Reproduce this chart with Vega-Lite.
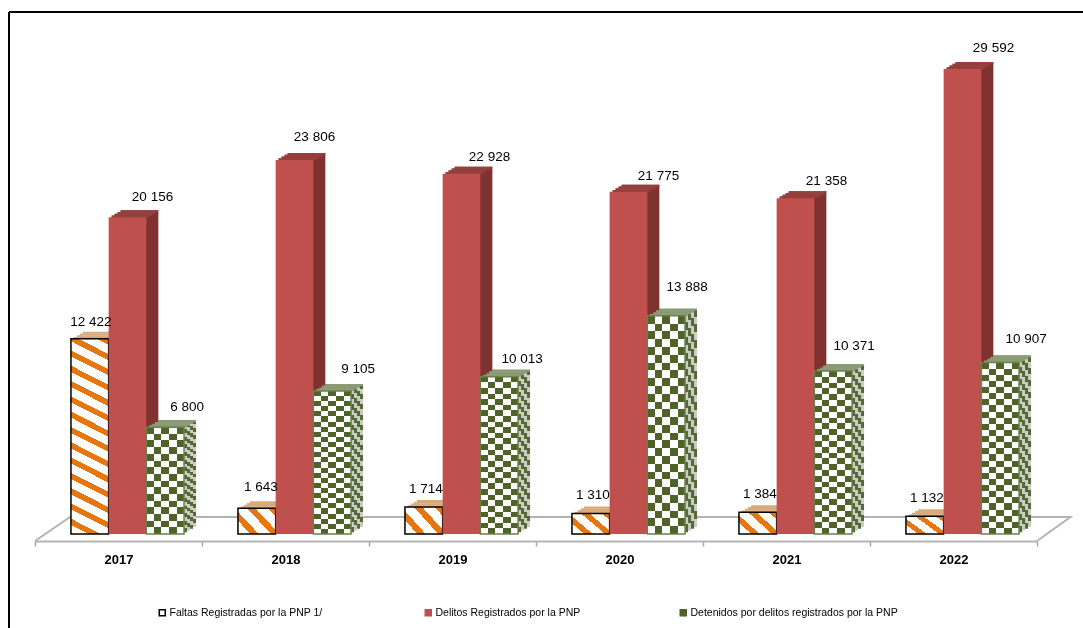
{
"$schema":"https://vega.github.io/schema/vega-lite/v6.json",
"width":1074,"height":616,
"padding":{"left":9,"top":12,"right":0,"bottom":0},
"autosize":"none",
"background":"white",
"config":{"view":{"stroke":null}},
"datasets":{
"rows":[
{"year":"2017","k":"F","serie":"Faltas Registradas por la PNP  1/","value":12422,"label":"12 422"},
{"year":"2018","k":"F","serie":"Faltas Registradas por la PNP  1/","value":1643,"label":"1 643"},
{"year":"2019","k":"F","serie":"Faltas Registradas por la PNP  1/","value":1714,"label":"1 714"},
{"year":"2020","k":"F","serie":"Faltas Registradas por la PNP  1/","value":1310,"label":"1 310"},
{"year":"2021","k":"F","serie":"Faltas Registradas por la PNP  1/","value":1384,"label":"1 384"},
{"year":"2022","k":"F","serie":"Faltas Registradas por la PNP  1/","value":1132,"label":"1 132"},
{"year":"2017","k":"D","serie":"Delitos Registrados por la PNP","value":20156,"label":"20 156"},
{"year":"2018","k":"D","serie":"Delitos Registrados por la PNP","value":23806,"label":"23 806"},
{"year":"2019","k":"D","serie":"Delitos Registrados por la PNP","value":22928,"label":"22 928"},
{"year":"2020","k":"D","serie":"Delitos Registrados por la PNP","value":21775,"label":"21 775"},
{"year":"2021","k":"D","serie":"Delitos Registrados por la PNP","value":21358,"label":"21 358"},
{"year":"2022","k":"D","serie":"Delitos Registrados por la PNP","value":29592,"label":"29 592"},
{"year":"2017","k":"G","serie":"Detenidos por delitos registrados por la PNP","value":6800,"label":"6 800"},
{"year":"2018","k":"G","serie":"Detenidos por delitos registrados por la PNP","value":9105,"label":"9 105"},
{"year":"2019","k":"G","serie":"Detenidos por delitos registrados por la PNP","value":10013,"label":"10 013"},
{"year":"2020","k":"G","serie":"Detenidos por delitos registrados por la PNP","value":13888,"label":"13 888"},
{"year":"2021","k":"G","serie":"Detenidos por delitos registrados por la PNP","value":10371,"label":"10 371"},
{"year":"2022","k":"G","serie":"Detenidos por delitos registrados por la PNP","value":10907,"label":"10 907"}
],
"floor":[
{"o":1,"u":0,"v":-446},
{"o":2,"u":0.21,"v":1081},
{"o":3,"u":6.2,"v":1081},
{"o":4,"u":6,"v":-446}
]
},
"resolve":{"scale":{"x":"independent"}},
"layer":[
{
"data":{"name":"floor"},
"encoding":{
"x":{"field":"u","type":"quantitative","axis":null,"scale":{"domain":[-0.1557,6.2754],"nice":false,"zero":false}},
"y":{"field":"v","type":"quantitative","axis":null,"scale":{"domain":[-5982,33218],"nice":false,"zero":false}}
},
"layer":[
{"mark":{"type":"line","color":"#b4b4b4","strokeWidth":2},"encoding":{"order":{"field":"o","type":"ordinal"}}},
{"mark":{"type":"rule","color":"black","strokeWidth":2},"encoding":{"x":{"datum":-0.1557},"y":null}},
{"mark":{"type":"rule","color":"black","strokeWidth":2},"encoding":{"y":{"datum":33218},"x":null}}
]
},
{
"data":{"name":"rows"},
"resolve":{"scale":{"xOffset":"independent"}},
"encoding":{
"x":{"field":"year","type":"nominal","title":null,"scale":{"range":[26,1028],"paddingInner":0,"paddingOuter":0},
"axis":{"orient":"bottom","offset":-87,"tickBand":"extent","tickSize":5,"tickColor":"#a6a6a6","domainColor":"#b4b4b4","domainWidth":2,"tickWidth":1.5,"labelAngle":0,"labelFont":"Liberation Sans","labelFontWeight":"bold","labelFontSize":13,"labelColor":"black","labelPadding":7,"grid":false}},
"xOffset":{"field":"k","type":"nominal","scale":{"domain":["F","D","G"],"paddingInner":0,"paddingOuter":0.715}},
"y":{"field":"value","type":"quantitative","axis":null,"scale":{"domain":[-5982,33218],"nice":false,"zero":false}}
},
"layer":[
{"mark":{"type":"bar","opacity":0},"encoding":{
"fill":{"field":"serie","type":"nominal","scale":{"domain":["Faltas Registradas por la PNP  1/","Delitos Registrados por la PNP","Detenidos por delitos registrados por la PNP"],"range":["white","#c0504d","#4f6228"]},
"legend":{"title":null,"orient":"none","legendX":148,"legendY":595,"direction":"horizontal","columns":3,"columnPadding":96,"symbolType":"square","symbolSize":36,"symbolOpacity":1,"symbolStrokeWidth":1.5,"labelFont":"Liberation Sans","labelFontSize":10.5,"labelColor":"black","labelLimit":300,"labelOffset":2}},
"stroke":{"field":"serie","type":"nominal","scale":{"domain":["Faltas Registradas por la PNP  1/","Delitos Registrados por la PNP","Detenidos por delitos registrados por la PNP"],"range":["black","#c0504d","#4f6228"]},"legend":null}
}},

{"transform":[{"filter":"datum.k=='F'"}],"mark":{"type":"bar","color":"#d8aa7c","yOffset":-7,"y2Offset":-5},"encoding":{"xOffset":{"field":"k","type":"nominal","scale":{"domain":["F","D","G"],"paddingInner":0,"paddingOuter":0.715,"range":[21,188]}},"y2":{"field":"value"}}},
{"transform":[{"filter":"datum.k=='F'"}],"mark":{"type":"bar","color":"#d8aa7c","yOffset":-5.25,"y2Offset":-3.25},"encoding":{"xOffset":{"field":"k","type":"nominal","scale":{"domain":["F","D","G"],"paddingInner":0,"paddingOuter":0.715,"range":[18,185]}},"y2":{"field":"value"}}},
{"transform":[{"filter":"datum.k=='F'"}],"mark":{"type":"bar","color":"#d8aa7c","yOffset":-3.5,"y2Offset":-1.5},"encoding":{"xOffset":{"field":"k","type":"nominal","scale":{"domain":["F","D","G"],"paddingInner":0,"paddingOuter":0.715,"range":[15,182]}},"y2":{"field":"value"}}},
{"transform":[{"filter":"datum.k=='F'"}],"mark":{"type":"bar","color":"#d8aa7c","yOffset":-1.75,"y2Offset":0},"encoding":{"xOffset":{"field":"k","type":"nominal","scale":{"domain":["F","D","G"],"paddingInner":0,"paddingOuter":0.715,"range":[12,179]}},"y2":{"field":"value"}}},
{"transform":[{"filter":"datum.k=='F'"}],"mark":{"type":"bar","stroke":"black","strokeWidth":1.5},
"encoding":{"xOffset":{"field":"k","type":"nominal","scale":{"domain":["F","D","G"],"paddingInner":0,"paddingOuter":0.715,"range":[9,176]}},"fill":{"condition":{"test":"datum.value>5000","value":{"gradient":"linear","x1":0,"y1":1,"x2":0.106,"y2":-0.087,"stops":[
{"offset":0,"color":"#ffffff"},{"offset":0.0429,"color":"#ffffff"},{"offset":0.0429,"color":"#e8760e"},{"offset":0.0714,"color":"#e8760e"},{"offset":0.0714,"color":"#ffffff"},{"offset":0.1143,"color":"#ffffff"},{"offset":0.1143,"color":"#e8760e"},{"offset":0.1429,"color":"#e8760e"},{"offset":0.1429,"color":"#ffffff"},{"offset":0.1857,"color":"#ffffff"},{"offset":0.1857,"color":"#e8760e"},{"offset":0.2143,"color":"#e8760e"},{"offset":0.2143,"color":"#ffffff"},{"offset":0.2571,"color":"#ffffff"},{"offset":0.2571,"color":"#e8760e"},{"offset":0.2857,"color":"#e8760e"},{"offset":0.2857,"color":"#ffffff"},{"offset":0.3286,"color":"#ffffff"},{"offset":0.3286,"color":"#e8760e"},{"offset":0.3571,"color":"#e8760e"},{"offset":0.3571,"color":"#ffffff"},{"offset":0.4,"color":"#ffffff"},{"offset":0.4,"color":"#e8760e"},{"offset":0.4286,"color":"#e8760e"},{"offset":0.4286,"color":"#ffffff"},{"offset":0.4714,"color":"#ffffff"},{"offset":0.4714,"color":"#e8760e"},{"offset":0.5,"color":"#e8760e"},{"offset":0.5,"color":"#ffffff"},{"offset":0.5429,"color":"#ffffff"},{"offset":0.5429,"color":"#e8760e"},{"offset":0.5714,"color":"#e8760e"},{"offset":0.5714,"color":"#ffffff"},{"offset":0.6143,"color":"#ffffff"},{"offset":0.6143,"color":"#e8760e"},{"offset":0.6429,"color":"#e8760e"},{"offset":0.6429,"color":"#ffffff"},{"offset":0.6857,"color":"#ffffff"},{"offset":0.6857,"color":"#e8760e"},{"offset":0.7143,"color":"#e8760e"},{"offset":0.7143,"color":"#ffffff"},{"offset":0.7571,"color":"#ffffff"},{"offset":0.7571,"color":"#e8760e"},{"offset":0.7857,"color":"#e8760e"},{"offset":0.7857,"color":"#ffffff"},{"offset":0.8286,"color":"#ffffff"},{"offset":0.8286,"color":"#e8760e"},{"offset":0.8571,"color":"#e8760e"},{"offset":0.8571,"color":"#ffffff"},{"offset":0.9,"color":"#ffffff"},{"offset":0.9,"color":"#e8760e"},{"offset":0.9286,"color":"#e8760e"},{"offset":0.9286,"color":"#ffffff"},{"offset":0.9714,"color":"#ffffff"},{"offset":0.9714,"color":"#e8760e"},{"offset":1,"color":"#e8760e"}]}},
"value":{"gradient":"linear","x1":0,"y1":1,"x2":1.17,"y2":0.25,"stops":[
{"offset":0,"color":"#ffffff"},{"offset":0.2,"color":"#ffffff"},{"offset":0.2,"color":"#e8760e"},{"offset":0.3333,"color":"#e8760e"},{"offset":0.3333,"color":"#ffffff"},{"offset":0.5333,"color":"#ffffff"},{"offset":0.5333,"color":"#e8760e"},{"offset":0.6667,"color":"#e8760e"},{"offset":0.6667,"color":"#ffffff"},{"offset":0.8667,"color":"#ffffff"},{"offset":0.8667,"color":"#e8760e"},{"offset":1,"color":"#e8760e"}]}}}},

{"transform":[{"filter":"datum.k=='D'"}],"mark":{"type":"bar","color":"#7f3230","yOffset":-7,"y2Offset":-7},"encoding":{"xOffset":{"field":"k","type":"nominal","scale":{"domain":["F","D","G"],"paddingInner":0,"paddingOuter":0.715,"range":[21,188]}}}},
{"transform":[{"filter":"datum.k=='D'"}],"mark":{"type":"bar","color":"#7f3230","yOffset":-5.25,"y2Offset":-5.25},"encoding":{"xOffset":{"field":"k","type":"nominal","scale":{"domain":["F","D","G"],"paddingInner":0,"paddingOuter":0.715,"range":[18,185]}}}},
{"transform":[{"filter":"datum.k=='D'"}],"mark":{"type":"bar","color":"#7f3230","yOffset":-3.5,"y2Offset":-3.5},"encoding":{"xOffset":{"field":"k","type":"nominal","scale":{"domain":["F","D","G"],"paddingInner":0,"paddingOuter":0.715,"range":[15,182]}}}},
{"transform":[{"filter":"datum.k=='D'"}],"mark":{"type":"bar","color":"#7f3230","yOffset":-1.75,"y2Offset":-1.75},"encoding":{"xOffset":{"field":"k","type":"nominal","scale":{"domain":["F","D","G"],"paddingInner":0,"paddingOuter":0.715,"range":[12,179]}}}},
{"transform":[{"filter":"datum.k=='D'"}],"mark":{"type":"bar","color":"#96403d","yOffset":-7,"y2Offset":-5},"encoding":{"xOffset":{"field":"k","type":"nominal","scale":{"domain":["F","D","G"],"paddingInner":0,"paddingOuter":0.715,"range":[21,188]}},"y2":{"field":"value"}}},
{"transform":[{"filter":"datum.k=='D'"}],"mark":{"type":"bar","color":"#96403d","yOffset":-5.25,"y2Offset":-3.25},"encoding":{"xOffset":{"field":"k","type":"nominal","scale":{"domain":["F","D","G"],"paddingInner":0,"paddingOuter":0.715,"range":[18,185]}},"y2":{"field":"value"}}},
{"transform":[{"filter":"datum.k=='D'"}],"mark":{"type":"bar","color":"#96403d","yOffset":-3.5,"y2Offset":-1.5},"encoding":{"xOffset":{"field":"k","type":"nominal","scale":{"domain":["F","D","G"],"paddingInner":0,"paddingOuter":0.715,"range":[15,182]}},"y2":{"field":"value"}}},
{"transform":[{"filter":"datum.k=='D'"}],"mark":{"type":"bar","color":"#96403d","yOffset":-1.75,"y2Offset":0},"encoding":{"xOffset":{"field":"k","type":"nominal","scale":{"domain":["F","D","G"],"paddingInner":0,"paddingOuter":0.715,"range":[12,179]}},"y2":{"field":"value"}}},
{"transform":[{"filter":"datum.k=='D'"}],"mark":{"type":"bar","color":"#c0504d"},"encoding":{"xOffset":{"field":"k","type":"nominal","scale":{"domain":["F","D","G"],"paddingInner":0,"paddingOuter":0.715,"range":[9,176]}}}},

{"transform":[{"filter":"datum.k=='G'"}],"mark":{"type":"bar","yOffset":-7,"y2Offset":-7,"fill":{"gradient":"linear","x1":0,"y1":0,"x2":0,"y2":1,"stops":[
{"offset":0,"color":"#55683a"},{"offset":0.0357,"color":"#55683a"},{"offset":0.0357,"color":"#c9cec0"},{"offset":0.0714,"color":"#c9cec0"},{"offset":0.0714,"color":"#55683a"},{"offset":0.1071,"color":"#55683a"},{"offset":0.1071,"color":"#c9cec0"},{"offset":0.1429,"color":"#c9cec0"},{"offset":0.1429,"color":"#55683a"},{"offset":0.1786,"color":"#55683a"},{"offset":0.1786,"color":"#c9cec0"},{"offset":0.2143,"color":"#c9cec0"},{"offset":0.2143,"color":"#55683a"},{"offset":0.25,"color":"#55683a"},{"offset":0.25,"color":"#c9cec0"},{"offset":0.2857,"color":"#c9cec0"},{"offset":0.2857,"color":"#55683a"},{"offset":0.3214,"color":"#55683a"},{"offset":0.3214,"color":"#c9cec0"},{"offset":0.3571,"color":"#c9cec0"},{"offset":0.3571,"color":"#55683a"},{"offset":0.3929,"color":"#55683a"},{"offset":0.3929,"color":"#c9cec0"},{"offset":0.4286,"color":"#c9cec0"},{"offset":0.4286,"color":"#55683a"},{"offset":0.4643,"color":"#55683a"},{"offset":0.4643,"color":"#c9cec0"},{"offset":0.5,"color":"#c9cec0"},{"offset":0.5,"color":"#55683a"},{"offset":0.5357,"color":"#55683a"},{"offset":0.5357,"color":"#c9cec0"},{"offset":0.5714,"color":"#c9cec0"},{"offset":0.5714,"color":"#55683a"},{"offset":0.6071,"color":"#55683a"},{"offset":0.6071,"color":"#c9cec0"},{"offset":0.6429,"color":"#c9cec0"},{"offset":0.6429,"color":"#55683a"},{"offset":0.6786,"color":"#55683a"},{"offset":0.6786,"color":"#c9cec0"},{"offset":0.7143,"color":"#c9cec0"},{"offset":0.7143,"color":"#55683a"},{"offset":0.75,"color":"#55683a"},{"offset":0.75,"color":"#c9cec0"},{"offset":0.7857,"color":"#c9cec0"},{"offset":0.7857,"color":"#55683a"},{"offset":0.8214,"color":"#55683a"},{"offset":0.8214,"color":"#c9cec0"},{"offset":0.8571,"color":"#c9cec0"},{"offset":0.8571,"color":"#55683a"},{"offset":0.8929,"color":"#55683a"},{"offset":0.8929,"color":"#c9cec0"},{"offset":0.9286,"color":"#c9cec0"},{"offset":0.9286,"color":"#55683a"},{"offset":0.9643,"color":"#55683a"},{"offset":0.9643,"color":"#c9cec0"},{"offset":1,"color":"#c9cec0"}]}},"encoding":{"xOffset":{"field":"k","type":"nominal","scale":{"domain":["F","D","G"],"paddingInner":0,"paddingOuter":0.715,"range":[21,188]}}}},
{"transform":[{"filter":"datum.k=='G'"}],"mark":{"type":"bar","yOffset":-5.25,"y2Offset":-5.25,"fill":{"gradient":"linear","x1":0,"y1":0,"x2":0,"y2":1,"stops":[
{"offset":0,"color":"#c9cec0"},{"offset":0.0357,"color":"#c9cec0"},{"offset":0.0357,"color":"#55683a"},{"offset":0.0714,"color":"#55683a"},{"offset":0.0714,"color":"#c9cec0"},{"offset":0.1071,"color":"#c9cec0"},{"offset":0.1071,"color":"#55683a"},{"offset":0.1429,"color":"#55683a"},{"offset":0.1429,"color":"#c9cec0"},{"offset":0.1786,"color":"#c9cec0"},{"offset":0.1786,"color":"#55683a"},{"offset":0.2143,"color":"#55683a"},{"offset":0.2143,"color":"#c9cec0"},{"offset":0.25,"color":"#c9cec0"},{"offset":0.25,"color":"#55683a"},{"offset":0.2857,"color":"#55683a"},{"offset":0.2857,"color":"#c9cec0"},{"offset":0.3214,"color":"#c9cec0"},{"offset":0.3214,"color":"#55683a"},{"offset":0.3571,"color":"#55683a"},{"offset":0.3571,"color":"#c9cec0"},{"offset":0.3929,"color":"#c9cec0"},{"offset":0.3929,"color":"#55683a"},{"offset":0.4286,"color":"#55683a"},{"offset":0.4286,"color":"#c9cec0"},{"offset":0.4643,"color":"#c9cec0"},{"offset":0.4643,"color":"#55683a"},{"offset":0.5,"color":"#55683a"},{"offset":0.5,"color":"#c9cec0"},{"offset":0.5357,"color":"#c9cec0"},{"offset":0.5357,"color":"#55683a"},{"offset":0.5714,"color":"#55683a"},{"offset":0.5714,"color":"#c9cec0"},{"offset":0.6071,"color":"#c9cec0"},{"offset":0.6071,"color":"#55683a"},{"offset":0.6429,"color":"#55683a"},{"offset":0.6429,"color":"#c9cec0"},{"offset":0.6786,"color":"#c9cec0"},{"offset":0.6786,"color":"#55683a"},{"offset":0.7143,"color":"#55683a"},{"offset":0.7143,"color":"#c9cec0"},{"offset":0.75,"color":"#c9cec0"},{"offset":0.75,"color":"#55683a"},{"offset":0.7857,"color":"#55683a"},{"offset":0.7857,"color":"#c9cec0"},{"offset":0.8214,"color":"#c9cec0"},{"offset":0.8214,"color":"#55683a"},{"offset":0.8571,"color":"#55683a"},{"offset":0.8571,"color":"#c9cec0"},{"offset":0.8929,"color":"#c9cec0"},{"offset":0.8929,"color":"#55683a"},{"offset":0.9286,"color":"#55683a"},{"offset":0.9286,"color":"#c9cec0"},{"offset":0.9643,"color":"#c9cec0"},{"offset":0.9643,"color":"#55683a"},{"offset":1,"color":"#55683a"}]}},"encoding":{"xOffset":{"field":"k","type":"nominal","scale":{"domain":["F","D","G"],"paddingInner":0,"paddingOuter":0.715,"range":[18,185]}}}},
{"transform":[{"filter":"datum.k=='G'"}],"mark":{"type":"bar","yOffset":-3.5,"y2Offset":-3.5,"fill":{"gradient":"linear","x1":0,"y1":0,"x2":0,"y2":1,"stops":[
{"offset":0,"color":"#55683a"},{"offset":0.0357,"color":"#55683a"},{"offset":0.0357,"color":"#c9cec0"},{"offset":0.0714,"color":"#c9cec0"},{"offset":0.0714,"color":"#55683a"},{"offset":0.1071,"color":"#55683a"},{"offset":0.1071,"color":"#c9cec0"},{"offset":0.1429,"color":"#c9cec0"},{"offset":0.1429,"color":"#55683a"},{"offset":0.1786,"color":"#55683a"},{"offset":0.1786,"color":"#c9cec0"},{"offset":0.2143,"color":"#c9cec0"},{"offset":0.2143,"color":"#55683a"},{"offset":0.25,"color":"#55683a"},{"offset":0.25,"color":"#c9cec0"},{"offset":0.2857,"color":"#c9cec0"},{"offset":0.2857,"color":"#55683a"},{"offset":0.3214,"color":"#55683a"},{"offset":0.3214,"color":"#c9cec0"},{"offset":0.3571,"color":"#c9cec0"},{"offset":0.3571,"color":"#55683a"},{"offset":0.3929,"color":"#55683a"},{"offset":0.3929,"color":"#c9cec0"},{"offset":0.4286,"color":"#c9cec0"},{"offset":0.4286,"color":"#55683a"},{"offset":0.4643,"color":"#55683a"},{"offset":0.4643,"color":"#c9cec0"},{"offset":0.5,"color":"#c9cec0"},{"offset":0.5,"color":"#55683a"},{"offset":0.5357,"color":"#55683a"},{"offset":0.5357,"color":"#c9cec0"},{"offset":0.5714,"color":"#c9cec0"},{"offset":0.5714,"color":"#55683a"},{"offset":0.6071,"color":"#55683a"},{"offset":0.6071,"color":"#c9cec0"},{"offset":0.6429,"color":"#c9cec0"},{"offset":0.6429,"color":"#55683a"},{"offset":0.6786,"color":"#55683a"},{"offset":0.6786,"color":"#c9cec0"},{"offset":0.7143,"color":"#c9cec0"},{"offset":0.7143,"color":"#55683a"},{"offset":0.75,"color":"#55683a"},{"offset":0.75,"color":"#c9cec0"},{"offset":0.7857,"color":"#c9cec0"},{"offset":0.7857,"color":"#55683a"},{"offset":0.8214,"color":"#55683a"},{"offset":0.8214,"color":"#c9cec0"},{"offset":0.8571,"color":"#c9cec0"},{"offset":0.8571,"color":"#55683a"},{"offset":0.8929,"color":"#55683a"},{"offset":0.8929,"color":"#c9cec0"},{"offset":0.9286,"color":"#c9cec0"},{"offset":0.9286,"color":"#55683a"},{"offset":0.9643,"color":"#55683a"},{"offset":0.9643,"color":"#c9cec0"},{"offset":1,"color":"#c9cec0"}]}},"encoding":{"xOffset":{"field":"k","type":"nominal","scale":{"domain":["F","D","G"],"paddingInner":0,"paddingOuter":0.715,"range":[15,182]}}}},
{"transform":[{"filter":"datum.k=='G'"}],"mark":{"type":"bar","yOffset":-1.75,"y2Offset":-1.75,"fill":{"gradient":"linear","x1":0,"y1":0,"x2":0,"y2":1,"stops":[
{"offset":0,"color":"#c9cec0"},{"offset":0.0357,"color":"#c9cec0"},{"offset":0.0357,"color":"#55683a"},{"offset":0.0714,"color":"#55683a"},{"offset":0.0714,"color":"#c9cec0"},{"offset":0.1071,"color":"#c9cec0"},{"offset":0.1071,"color":"#55683a"},{"offset":0.1429,"color":"#55683a"},{"offset":0.1429,"color":"#c9cec0"},{"offset":0.1786,"color":"#c9cec0"},{"offset":0.1786,"color":"#55683a"},{"offset":0.2143,"color":"#55683a"},{"offset":0.2143,"color":"#c9cec0"},{"offset":0.25,"color":"#c9cec0"},{"offset":0.25,"color":"#55683a"},{"offset":0.2857,"color":"#55683a"},{"offset":0.2857,"color":"#c9cec0"},{"offset":0.3214,"color":"#c9cec0"},{"offset":0.3214,"color":"#55683a"},{"offset":0.3571,"color":"#55683a"},{"offset":0.3571,"color":"#c9cec0"},{"offset":0.3929,"color":"#c9cec0"},{"offset":0.3929,"color":"#55683a"},{"offset":0.4286,"color":"#55683a"},{"offset":0.4286,"color":"#c9cec0"},{"offset":0.4643,"color":"#c9cec0"},{"offset":0.4643,"color":"#55683a"},{"offset":0.5,"color":"#55683a"},{"offset":0.5,"color":"#c9cec0"},{"offset":0.5357,"color":"#c9cec0"},{"offset":0.5357,"color":"#55683a"},{"offset":0.5714,"color":"#55683a"},{"offset":0.5714,"color":"#c9cec0"},{"offset":0.6071,"color":"#c9cec0"},{"offset":0.6071,"color":"#55683a"},{"offset":0.6429,"color":"#55683a"},{"offset":0.6429,"color":"#c9cec0"},{"offset":0.6786,"color":"#c9cec0"},{"offset":0.6786,"color":"#55683a"},{"offset":0.7143,"color":"#55683a"},{"offset":0.7143,"color":"#c9cec0"},{"offset":0.75,"color":"#c9cec0"},{"offset":0.75,"color":"#55683a"},{"offset":0.7857,"color":"#55683a"},{"offset":0.7857,"color":"#c9cec0"},{"offset":0.8214,"color":"#c9cec0"},{"offset":0.8214,"color":"#55683a"},{"offset":0.8571,"color":"#55683a"},{"offset":0.8571,"color":"#c9cec0"},{"offset":0.8929,"color":"#c9cec0"},{"offset":0.8929,"color":"#55683a"},{"offset":0.9286,"color":"#55683a"},{"offset":0.9286,"color":"#c9cec0"},{"offset":0.9643,"color":"#c9cec0"},{"offset":0.9643,"color":"#55683a"},{"offset":1,"color":"#55683a"}]}},"encoding":{"xOffset":{"field":"k","type":"nominal","scale":{"domain":["F","D","G"],"paddingInner":0,"paddingOuter":0.715,"range":[12,179]}}}},
{"transform":[{"filter":"datum.k=='G'"}],"mark":{"type":"bar","color":"#8c9a76","yOffset":-7,"y2Offset":-5},"encoding":{"xOffset":{"field":"k","type":"nominal","scale":{"domain":["F","D","G"],"paddingInner":0,"paddingOuter":0.715,"range":[21,188]}},"y2":{"field":"value"}}},
{"transform":[{"filter":"datum.k=='G'"}],"mark":{"type":"bar","color":"#8c9a76","yOffset":-5.25,"y2Offset":-3.25},"encoding":{"xOffset":{"field":"k","type":"nominal","scale":{"domain":["F","D","G"],"paddingInner":0,"paddingOuter":0.715,"range":[18,185]}},"y2":{"field":"value"}}},
{"transform":[{"filter":"datum.k=='G'"}],"mark":{"type":"bar","color":"#8c9a76","yOffset":-3.5,"y2Offset":-1.5},"encoding":{"xOffset":{"field":"k","type":"nominal","scale":{"domain":["F","D","G"],"paddingInner":0,"paddingOuter":0.715,"range":[15,182]}},"y2":{"field":"value"}}},
{"transform":[{"filter":"datum.k=='G'"}],"mark":{"type":"bar","color":"#8c9a76","yOffset":-1.75,"y2Offset":0},"encoding":{"xOffset":{"field":"k","type":"nominal","scale":{"domain":["F","D","G"],"paddingInner":0,"paddingOuter":0.715,"range":[12,179]}},"y2":{"field":"value"}}},

{"transform":[{"filter":"datum.k=='G'"}],"mark":{"type":"bar"},"encoding":{"xOffset":{"field":"k","type":"nominal","scale":{"domain":["F","D","G"],"paddingInner":0,"paddingOuter":0.715,"range":[9,176]}},"fill":{
"condition":{"test":"datum.value<8000","value":{"gradient":"linear","x1":0,"y1":0,"x2":0,"y2":1,"stops":[
{"offset":0,"color":"#000"},{"offset":0.0625,"color":"#000"},{"offset":0.0625,"color":"#fff"},{"offset":0.125,"color":"#fff"},{"offset":0.125,"color":"#000"},{"offset":0.1875,"color":"#000"},{"offset":0.1875,"color":"#fff"},{"offset":0.25,"color":"#fff"},{"offset":0.25,"color":"#000"},{"offset":0.3125,"color":"#000"},{"offset":0.3125,"color":"#fff"},{"offset":0.375,"color":"#fff"},{"offset":0.375,"color":"#000"},{"offset":0.4375,"color":"#000"},{"offset":0.4375,"color":"#fff"},{"offset":0.5,"color":"#fff"},{"offset":0.5,"color":"#000"},{"offset":0.5625,"color":"#000"},{"offset":0.5625,"color":"#fff"},{"offset":0.625,"color":"#fff"},{"offset":0.625,"color":"#000"},{"offset":0.6875,"color":"#000"},{"offset":0.6875,"color":"#fff"},{"offset":0.75,"color":"#fff"},{"offset":0.75,"color":"#000"},{"offset":0.8125,"color":"#000"},{"offset":0.8125,"color":"#fff"},{"offset":0.875,"color":"#fff"},{"offset":0.875,"color":"#000"},{"offset":0.9375,"color":"#000"},{"offset":0.9375,"color":"#fff"},{"offset":1,"color":"#fff"}]}},
"value":{"gradient":"linear","x1":0,"y1":0,"x2":0,"y2":1,"stops":[
{"offset":0,"color":"#000"},{"offset":0.0357,"color":"#000"},{"offset":0.0357,"color":"#fff"},{"offset":0.0714,"color":"#fff"},{"offset":0.0714,"color":"#000"},{"offset":0.1071,"color":"#000"},{"offset":0.1071,"color":"#fff"},{"offset":0.1429,"color":"#fff"},{"offset":0.1429,"color":"#000"},{"offset":0.1786,"color":"#000"},{"offset":0.1786,"color":"#fff"},{"offset":0.2143,"color":"#fff"},{"offset":0.2143,"color":"#000"},{"offset":0.25,"color":"#000"},{"offset":0.25,"color":"#fff"},{"offset":0.2857,"color":"#fff"},{"offset":0.2857,"color":"#000"},{"offset":0.3214,"color":"#000"},{"offset":0.3214,"color":"#fff"},{"offset":0.3571,"color":"#fff"},{"offset":0.3571,"color":"#000"},{"offset":0.3929,"color":"#000"},{"offset":0.3929,"color":"#fff"},{"offset":0.4286,"color":"#fff"},{"offset":0.4286,"color":"#000"},{"offset":0.4643,"color":"#000"},{"offset":0.4643,"color":"#fff"},{"offset":0.5,"color":"#fff"},{"offset":0.5,"color":"#000"},{"offset":0.5357,"color":"#000"},{"offset":0.5357,"color":"#fff"},{"offset":0.5714,"color":"#fff"},{"offset":0.5714,"color":"#000"},{"offset":0.6071,"color":"#000"},{"offset":0.6071,"color":"#fff"},{"offset":0.6429,"color":"#fff"},{"offset":0.6429,"color":"#000"},{"offset":0.6786,"color":"#000"},{"offset":0.6786,"color":"#fff"},{"offset":0.7143,"color":"#fff"},{"offset":0.7143,"color":"#000"},{"offset":0.75,"color":"#000"},{"offset":0.75,"color":"#fff"},{"offset":0.7857,"color":"#fff"},{"offset":0.7857,"color":"#000"},{"offset":0.8214,"color":"#000"},{"offset":0.8214,"color":"#fff"},{"offset":0.8571,"color":"#fff"},{"offset":0.8571,"color":"#000"},{"offset":0.8929,"color":"#000"},{"offset":0.8929,"color":"#fff"},{"offset":0.9286,"color":"#fff"},{"offset":0.9286,"color":"#000"},{"offset":0.9643,"color":"#000"},{"offset":0.9643,"color":"#fff"},{"offset":1,"color":"#fff"}]}}}},
{"transform":[{"filter":"datum.k=='G'"}],"mark":{"type":"bar","blend":"difference","fill":{"gradient":"linear","x1":0,"y1":0,"x2":1,"y2":0,"stops":[
{"offset":0,"color":"#000"},{"offset":0.2,"color":"#000"},{"offset":0.2,"color":"#fff"},{"offset":0.4,"color":"#fff"},{"offset":0.4,"color":"#000"},{"offset":0.6,"color":"#000"},{"offset":0.6,"color":"#fff"},{"offset":0.8,"color":"#fff"},{"offset":0.8,"color":"#000"},{"offset":1,"color":"#000"}]}},"encoding":{"xOffset":{"field":"k","type":"nominal","scale":{"domain":["F","D","G"],"paddingInner":0,"paddingOuter":0.715,"range":[9,176]}}}},
{"transform":[{"filter":"datum.k=='G'"}],"mark":{"type":"bar","blend":"screen","fill":"#4f6228"},"encoding":{"xOffset":{"field":"k","type":"nominal","scale":{"domain":["F","D","G"],"paddingInner":0,"paddingOuter":0.715,"range":[9,176]}}}},
{"transform":[{"filter":"datum.k=='G'"}],"mark":{"type":"bar","fillOpacity":0,"stroke":"#6b7f4a","strokeWidth":1.5},"encoding":{"xOffset":{"field":"k","type":"nominal","scale":{"domain":["F","D","G"],"paddingInner":0,"paddingOuter":0.715,"range":[9,176]}}}},

{"transform":[{"filter":"datum.k=='F'&&datum.year=='2017'"}],"mark":{"type":"text","font":"Liberation Sans","fontSize":13.5,"color":"black","baseline":"middle","dx":21,"dy":-17},"encoding":{"text":{"field":"label"}}},
{"transform":[{"filter":"datum.k=='F'&&datum.year=='2018'"}],"mark":{"type":"text","font":"Liberation Sans","fontSize":13.5,"color":"black","baseline":"middle","dx":24,"dy":-21},"encoding":{"text":{"field":"label"}}},
{"transform":[{"filter":"datum.k=='F'&&datum.year>'2018'"}],"mark":{"type":"text","font":"Liberation Sans","fontSize":13.5,"color":"black","baseline":"middle","dx":22,"dy":-18},"encoding":{"text":{"field":"label"}}},
{"transform":[{"filter":"datum.k=='D'&&datum.year=='2017'"}],"mark":{"type":"text","font":"Liberation Sans","fontSize":13.5,"color":"black","baseline":"middle","dx":34,"dy":-20},"encoding":{"text":{"field":"label"}}},
{"transform":[{"filter":"datum.k=='D'&&datum.year=='2018'"}],"mark":{"type":"text","font":"Liberation Sans","fontSize":13.5,"color":"black","baseline":"middle","dx":29,"dy":-23},"encoding":{"text":{"field":"label"}}},
{"transform":[{"filter":"datum.k=='D'&&datum.year=='2019'"}],"mark":{"type":"text","font":"Liberation Sans","fontSize":13.5,"color":"black","baseline":"middle","dx":37,"dy":-17},"encoding":{"text":{"field":"label"}}},
{"transform":[{"filter":"datum.k=='D'&&datum.year=='2020'"}],"mark":{"type":"text","font":"Liberation Sans","fontSize":13.5,"color":"black","baseline":"middle","dx":39,"dy":-16},"encoding":{"text":{"field":"label"}}},
{"transform":[{"filter":"datum.k=='D'&&datum.year=='2021'"}],"mark":{"type":"text","font":"Liberation Sans","fontSize":13.5,"color":"black","baseline":"middle","dx":40,"dy":-17},"encoding":{"text":{"field":"label"}}},
{"transform":[{"filter":"datum.k=='D'&&datum.year=='2022'"}],"mark":{"type":"text","font":"Liberation Sans","fontSize":13.5,"color":"black","baseline":"middle","dx":40,"dy":-21},"encoding":{"text":{"field":"label"}}},
{"transform":[{"filter":"datum.k=='G'&&datum.year=='2017'"}],"mark":{"type":"text","font":"Liberation Sans","fontSize":13.5,"color":"black","baseline":"middle","dx":20,"dy":-20},"encoding":{"text":{"field":"label"}}},
{"transform":[{"filter":"datum.k=='G'&&datum.year=='2018'"}],"mark":{"type":"text","font":"Liberation Sans","fontSize":13.5,"color":"black","baseline":"middle","dx":24,"dy":-22},"encoding":{"text":{"field":"label"}}},
{"transform":[{"filter":"datum.k=='G'&&datum.year=='2019'"}],"mark":{"type":"text","font":"Liberation Sans","fontSize":13.5,"color":"black","baseline":"middle","dx":21,"dy":-18},"encoding":{"text":{"field":"label"}}},
{"transform":[{"filter":"datum.k=='G'&&datum.year=='2020'"}],"mark":{"type":"text","font":"Liberation Sans","fontSize":13.5,"color":"black","baseline":"middle","dx":19,"dy":-29},"encoding":{"text":{"field":"label"}}},
{"transform":[{"filter":"datum.k=='G'&&datum.year=='2021'"}],"mark":{"type":"text","font":"Liberation Sans","fontSize":13.5,"color":"black","baseline":"middle","dx":19,"dy":-25},"encoding":{"text":{"field":"label"}}},
{"transform":[{"filter":"datum.k=='G'&&datum.year=='2022'"}],"mark":{"type":"text","font":"Liberation Sans","fontSize":13.5,"color":"black","baseline":"middle","dx":24,"dy":-24},"encoding":{"text":{"field":"label"}}}
]
}
]
}
